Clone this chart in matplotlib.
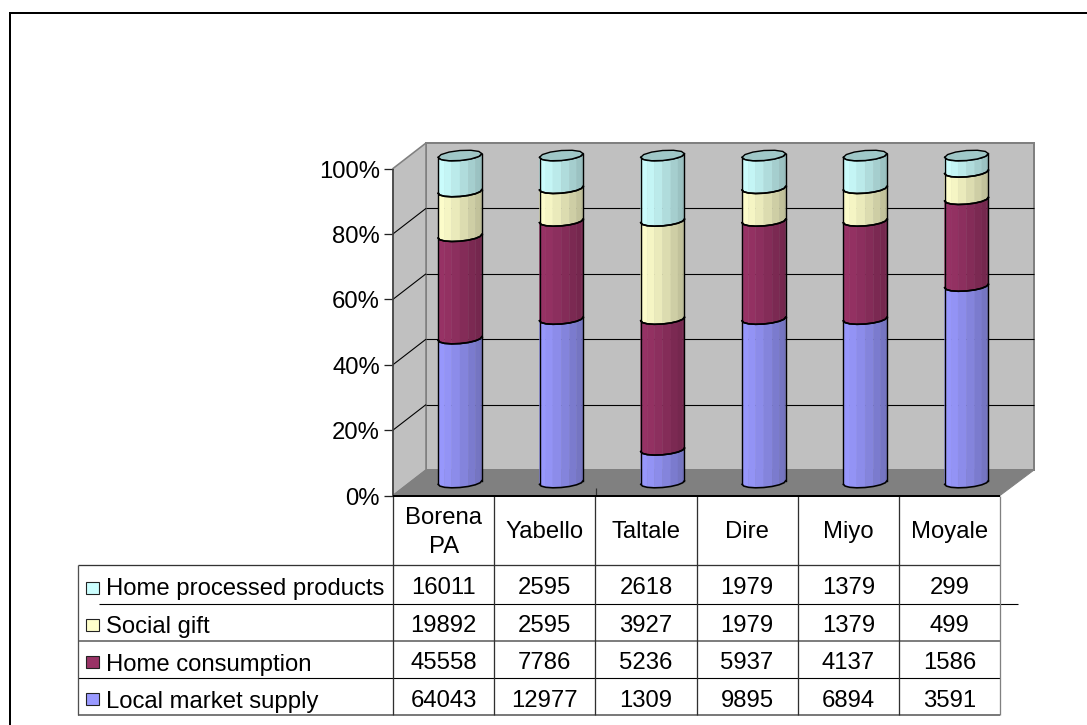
import numpy as np
import matplotlib
matplotlib.use("Agg")
import matplotlib.pyplot as plt
from matplotlib.patches import Polygon, Rectangle

plt.rcParams['font.family'] = ['Liberation Sans', 'DejaVu Sans']

# table contents, top row first
districts = ["Borena\nPA", "Yabello", "Taltale", "Dire", "Miyo", "Moyale"]
series_names = ["Home processed products", "Social gift", "Home consumption", "Local market supply"]
home_processed = [16011, 2595, 2618, 1979, 1379, 299]
social_gift = [19892, 2595, 3927, 1979, 1379, 499]
home_consumption = [45558, 7786, 5236, 5937, 4137, 1586]
local_market = [64043, 12977, 1309, 9895, 6894, 3591]
series_colors = ["#CCFFFF", "#FFFFCC", "#993366", "#9999FF"]
pct_ticks = [0, 20, 40, 60, 80, 100]

W, H = 1087, 725
fig = plt.figure(figsize=(W / 100, H / 100), dpi=100, facecolor="white")

# page layer in pixels for frame, walls and table
pg = fig.add_axes([0, 0, 1, 1])
pg.set_xlim(0, W)
pg.set_ylim(H, 0)
pg.axis("off")

px = 0.72  # one pixel in points
fsize = 17.2


def line(xs, ys, c="black", w=1.0, z=3):
    pg.plot(xs, ys, color=c, lw=w * px, zorder=z, solid_capstyle="butt")


# page frame, only top and left fall on the sheet
line([9.5, 9.5], [13.3, H], "black", 2.0, 0)
line([8.5, W], [13.3, 13.3], "black", 2.0, 0)

# 3d box
fl, fr, ft, fb = 393, 1000, 168.5, 495.5
bl, br, bt, bb = 426, 1034, 143, 470
pg.add_patch(Polygon([(bl, bt), (br, bt), (br, bb), (bl, bb)], fc="#C0C0C0", ec="#808080", lw=2 * px, zorder=1))
pg.add_patch(Polygon([(fl, ft), (bl, bt), (bl, bb), (fl, fb)], fc="#C0C0C0", ec="#808080", lw=1.6 * px, zorder=1))
pg.add_patch(Polygon([(fl, fb), (bl, bb), (br, bb), (fr, fb)], fc="#808080", ec="#808080", lw=1 * px, zorder=1))

for p in pct_ticks:
    yf = fb - (fb - ft) * p / 100
    yb = bb - (bb - bt) * p / 100
    line([384, fl], [yf, yf], "#222222", 1.3)
    pg.text(380, yf + 9, f"{p}%", ha="right", va="baseline", fontsize=fsize)
    if 0 < p < 100:
        line([fl, bl], [yf, yb], "black", 1.1)
        line([bl, br], [yb, yb], "black", 1.1)
line([fl, fl], [ft, fb], "#404040", 1.6)

# table grid
col_x = np.linspace(fl, fr, len(districts) + 1)
row_y = [495.5, 564.5, 603.5, 641, 678, 714.5]
tbl_left = 78
line([fl, fr], [row_y[0]] * 2, "black", 2.0, 4)
line([tbl_left, fr], [row_y[1]] * 2, "#333333", 1.3)
line([99, 1018], [row_y[2]] * 2, "black", 1.1)
line([tbl_left, fr], [row_y[3]] * 2, "#606060", 1.6)
line([tbl_left, fr], [row_y[4]] * 2, "black", 1.1)
line([tbl_left, fr], [row_y[5]] * 2, "#505050", 1.5)
line([tbl_left, tbl_left], [row_y[1], row_y[5]], "#505050", 1.3)
for i, x in enumerate(col_x):
    line([x, x], [row_y[0], row_y[5]], "#303030" if i < 6 else "#808080", 1.3)
line([col_x[2] + 0.5] * 2, [488, row_y[0]], "#303030", 1.2)

# table text
row_values = [home_processed, social_gift, home_consumption, local_market]
name_base = [595, 633, 670.5, 708]
value_base = [594, 632, 669, 707]
key_y = [588, 625, 662, 699]
for name, vals, col, ny, vy, ky in zip(series_names, row_values, series_colors, name_base, value_base, key_y):
    pg.add_patch(Rectangle((86, ky - 6.3), 13, 12.6, fc=col, ec="#222222", lw=1.1 * px, zorder=3))
    pg.text(106.5, ny, name, ha="left", va="baseline", fontsize=fsize)
    for j, v in enumerate(vals):
        pg.text((col_x[j] + col_x[j + 1]) / 2, vy, str(v), ha="center", va="baseline", fontsize=fsize)
for j, d in enumerate(districts):
    parts = d.split("\n")
    ys = [524, 553] if len(parts) == 2 else [538]
    for part, y in zip(parts, ys):
        pg.text((col_x[j] + col_x[j + 1]) / 2, y, part, ha="center", va="baseline", fontsize=fsize)

# bars: x is district index, y is share of the district total in percent
y0_px, y100_px = 488.0, 161.0
x0_px, x_step = 460.0, 101.3
ax = fig.add_axes([0, 0, 1, 1], facecolor="none")
ax.set_xlim(-x0_px / x_step, (W - x0_px) / x_step)
ax.set_ylim(-(H - y0_px) / (y0_px - y100_px) * 100, y0_px / (y0_px - y100_px) * 100)
ax.axis("off")
sx = 1 / x_step                 # pixel to x data
sy = 100 / (y0_px - y100_px)    # pixel to y data

half_w, front_h, tilt, mid_up = 21.8, 5.0, 1.8, 5.5
facets = np.linspace(np.pi, 0, 9)


def rim(t):
    # horizontal ring of the cylinder, offsets in data units
    return half_w * np.cos(t) * sx, (mid_up + tilt * np.cos(t) - front_h * np.sin(t)) * sy


def shade(hex_col, f):
    return tuple(c * f for c in matplotlib.colors.to_rgb(hex_col))


stack = np.array(row_values[::-1], dtype=float)
share = stack / stack.sum(axis=0) * 100
tops = np.cumsum(share, axis=0)
bottoms = tops - share
stack_colors = series_colors[::-1]

for i in range(len(districts)):
    for s in range(4):
        lo, hi = bottoms[s, i], tops[s, i]
        dx, dy = rim(facets)
        # vertical facets, shade follows the position across the bar
        for k in range(len(facets) - 1):
            u = (np.cos(facets[k]) + np.cos(facets[k + 1])) / 2
            f = 1.0 - 0.27 * ((u + 1) / 2) ** 1.3
            pts = [(i + dx[k], lo + dy[k]), (i + dx[k + 1], lo + dy[k + 1]),
                   (i + dx[k + 1], hi + dy[k + 1]), (i + dx[k], hi + dy[k])]
            ax.add_patch(Polygon(pts, fc=shade(stack_colors[s], f), ec=shade(stack_colors[s], f), lw=0.3, zorder=5))
        ax.plot(i + dx, lo + dy, color="black", lw=1.6 * px, zorder=6)
        ax.plot(i + dx, hi + dy, color="black", lw=1.6 * px, zorder=6)
        ax.plot([i + dx[0]] * 2, [lo + dy[0], hi + dy[0]], color="black", lw=1.4 * px, zorder=6)
        ax.plot([i + dx[-1]] * 2, [lo + dy[-1], hi + dy[-1]], color="black", lw=1.4 * px, zorder=6)
    # top cap
    t = np.linspace(0, 2 * np.pi, 13)
    dx, dy = rim(t)
    ax.add_patch(Polygon(np.column_stack([i + dx, 100 + dy]), fc=shade(stack_colors[3], 0.78), ec="black", lw=1.4 * px, zorder=7))

fig.savefig("out.png", dpi=100)
